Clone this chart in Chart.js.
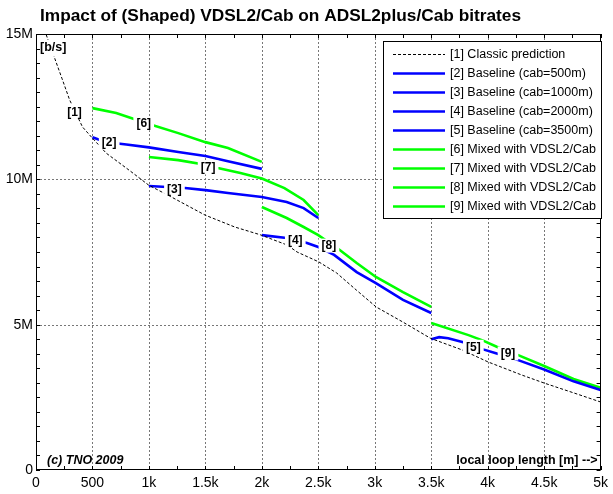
<!DOCTYPE html>
<html><head><meta charset="utf-8">
<script src="https://cdn.jsdelivr.net/npm/chart.js@4/dist/chart.umd.min.js"></script>
<style>html,body{margin:0;padding:0;background:#fff}#wrap{width:613px;height:494px;position:relative}</style>
</head><body><div id="wrap"><canvas id="c" width="613" height="494"></canvas></div>
<script>
// ---- data (x: local loop length in m, y: bitrate in Mb/s) ----
const chartTitle = 'Impact of (Shaped) VDSL2/Cab on ADSL2plus/Cab bitrates';
const seriesNames = ['[1] Classic prediction','[2] Baseline (cab=500m)','[3] Baseline (cab=1000m)','[4] Baseline (cab=2000m)','[5] Baseline (cab=3500m)','[6] Mixed with VDSL2/Cab','[7] Mixed with VDSL2/Cab','[8] Mixed with VDSL2/Cab','[9] Mixed with VDSL2/Cab'];
const shortTags = ['[1]','[2]','[3]','[4]','[5]','[6]','[7]','[8]','[9]'];
const tagX = [341, 648, 1226, 2296, 3873, 954, 1524, 2594, 4180];
const tagY = [12.32, 11.28, 9.66, 7.89, 4.24, 11.93, 10.41, 7.72, 4.01];

const s1x = [60, 88, 166, 231, 298, 412, 499, 622, 823, 998, 1200, 1497, 1760, 1988, 2224, 2312, 2504, 2662, 2837, 3012, 3249, 3494, 3774, 4002, 4300, 4501, 4764, 5000];
const s1y = [15.3, 15.0, 14.16, 13.46, 12.73, 11.80, 11.42, 10.9, 10.32, 9.80, 9.39, 8.77, 8.36, 8.09, 7.74, 7.50, 7.16, 6.78, 6.19, 5.61, 5.09, 4.53, 4.13, 3.72, 3.27, 2.99, 2.65, 2.34];

const s2x = [500, 560, 650, 800, 1000, 1260, 1500, 1700, 2000];
const s2y = [11.45, 11.36, 11.27, 11.2, 11.1, 10.94, 10.80, 10.62, 10.36];

const s3x = [1000, 1320, 1500, 1700, 2000, 2220, 2370, 2500];
const s3y = [9.77, 9.70, 9.63, 9.53, 9.39, 9.22, 9.01, 8.67];

const s4x = [2000, 2220, 2400, 2500, 2640, 2840, 3010, 3250, 3500];
const s4y = [8.08, 7.98, 7.81, 7.67, 7.40, 6.81, 6.43, 5.85, 5.40];

const s5x = [3500, 3570, 3650, 3800, 3960, 4080, 4270, 4500, 4760, 5000];
const s5y = [4.50, 4.57, 4.53, 4.38, 4.15, 4.01, 3.78, 3.46, 3.05, 2.75];

const s6x = [500, 710, 1000, 1260, 1500, 1700, 2000];
const s6y = [12.45, 12.28, 11.9, 11.59, 11.28, 11.08, 10.6];

const s7x = [1000, 1260, 1500, 1610, 1810, 2000, 2200, 2370, 2500];
const s7y = [10.77, 10.66, 10.5, 10.39, 10.22, 10.03, 9.70, 9.29, 8.77];

const s8x = [2000, 2220, 2370, 2500, 2690, 2840, 3010, 3250, 3500];
const s8y = [9.05, 8.67, 8.36, 8.08, 7.57, 7.12, 6.64, 6.12, 5.61];

const s9x = [3500, 3830, 3960, 4080, 4265, 4500, 4760, 5000];
const s9y = [5.06, 4.64, 4.45, 4.24, 3.96, 3.58, 3.13, 2.83];

const xTicks = [0, 500, 1000, 1500, 2000, 2500, 3000, 3500, 4000, 4500, 5000];
const yTicks = [0, 5, 10, 15];

// ---- build ----
const allX = [s1x, s2x, s3x, s4x, s5x, s6x, s7x, s8x, s9x];
const allY = [s1y, s2y, s3y, s4y, s5y, s6y, s7y, s8y, s9y];
const BLUE = '#0000ff', GREEN = '#00ff00';
const colors = ['#000000', BLUE, BLUE, BLUE, BLUE, GREEN, GREEN, GREEN, GREEN];
const FONT = '"Liberation Sans", Arial, sans-serif';

const datasets = allX.map((xs, i) => ({
  label: seriesNames[i],
  data: xs.map((x, k) => ({x: x, y: allY[i][k]})),
  borderColor: colors[i],
  borderWidth: i === 0 ? 1 : 2.6,
  borderDash: i === 0 ? [3, 2] : [],
  pointRadius: 0,
  tension: 0,
  fill: false
}));

const deco = {
  id: 'deco',
  beforeDraw(chart) {
    const ctx = chart.ctx;
    ctx.save();
    ctx.fillStyle = '#fff';
    ctx.fillRect(0, 0, chart.width, chart.height);
    ctx.restore();
  },
  beforeDatasetsDraw(chart) {
    const {ctx, chartArea: a, scales: {x, y}} = chart;
    ctx.save();
    ctx.strokeStyle = '#777';
    ctx.lineWidth = 1;
    ctx.setLineDash([2, 2]);
    xTicks.forEach(v => {
      if (v === 0 || v === 5000) return;
      const px = Math.round(x.getPixelForValue(v)) + 0.5;
      ctx.beginPath(); ctx.moveTo(px, a.top); ctx.lineTo(px, a.bottom); ctx.stroke();
    });
    yTicks.forEach(v => {
      if (v === 0 || v === 15) return;
      const py = Math.round(y.getPixelForValue(v)) + 0.5;
      ctx.beginPath(); ctx.moveTo(a.left, py); ctx.lineTo(a.right, py); ctx.stroke();
    });
    ctx.restore();
  },
  afterDatasetsDraw(chart) {
    const {ctx, chartArea: a, scales: {x, y}} = chart;
    ctx.save();
    // in-line tags with white boxes
    ctx.font = 'bold 12px ' + FONT;
    ctx.textAlign = 'center';
    ctx.textBaseline = 'middle';
    shortTags.forEach((t, i) => {
      const px = x.getPixelForValue(tagX[i]);
      const py = y.getPixelForValue(tagY[i]);
      const w = ctx.measureText(t).width + 6;
      ctx.fillStyle = '#fff';
      ctx.fillRect(px - w / 2, py - 7, w, 14);
      ctx.fillStyle = '#000';
      ctx.fillText(t, px, py + 0.5);
    });
    // [b/s] unit label with white box
    ctx.font = 'bold 12.5px ' + FONT;
    ctx.textAlign = 'left';
    ctx.textBaseline = 'middle';
    const bw = ctx.measureText('[b/s]').width;
    ctx.fillStyle = '#fff';
    ctx.fillRect(a.left + 2, a.top + 6, bw + 5, 16);
    ctx.fillStyle = '#000';
    ctx.fillText('[b/s]', a.left + 4, a.top + 14);
    // axes box
    ctx.strokeStyle = '#000';
    ctx.lineWidth = 1;
    ctx.setLineDash([]);
    ctx.strokeRect(Math.round(a.left) + 0.5, Math.round(a.top) + 0.5, Math.round(a.right - a.left) - 1, Math.round(a.bottom - a.top) - 1);
    // minor ticks
    ctx.beginPath();
    for (let v = 0; v <= 5000; v += 250) {
      const px = Math.round(x.getPixelForValue(v)) + 0.5;
      ctx.moveTo(px, a.bottom); ctx.lineTo(px, a.bottom - 4);
      ctx.moveTo(px, a.top); ctx.lineTo(px, a.top + 4);
    }
    for (let v = 0; v <= 15; v += 0.5) {
      const py = Math.round(y.getPixelForValue(v)) + 0.5;
      ctx.moveTo(a.left, py); ctx.lineTo(a.left + 4, py);
      ctx.moveTo(a.right, py); ctx.lineTo(a.right - 4, py);
    }
    ctx.stroke();
    // corner texts
    ctx.fillStyle = '#000';
    ctx.textAlign = 'left';
    ctx.textBaseline = 'alphabetic';
    ctx.font = 'italic bold 12.5px ' + FONT;
    ctx.fillText('(c) TNO 2009', a.left + 11, a.bottom - 6);
    ctx.font = 'bold 12.5px ' + FONT;
    ctx.textAlign = 'right';
    ctx.fillText('local loop length [m] -->', a.right - 3, a.bottom - 6);
    // legend
    const L = 383.5, T = 41.5, R = 601.5, B = 218.5;
    ctx.fillStyle = '#fff';
    ctx.fillRect(L, T, R - L, B - T);
    ctx.strokeStyle = '#000';
    ctx.lineWidth = 1;
    ctx.strokeRect(L, T, R - L, B - T);
    ctx.font = '12.5px ' + FONT;
    ctx.textAlign = 'left';
    ctx.textBaseline = 'middle';
    seriesNames.forEach((n, i) => {
      const cy = 54 + i * 19.05;
      ctx.strokeStyle = colors[i];
      ctx.lineWidth = i === 0 ? 1 : 2.6;
      ctx.setLineDash(i === 0 ? [3, 2] : []);
      ctx.beginPath(); ctx.moveTo(393, Math.round(cy) + 0.5); ctx.lineTo(445, Math.round(cy) + 0.5); ctx.stroke();
      ctx.fillStyle = '#000';
      ctx.fillText(n, 450, cy + 0.5);
    });
    ctx.setLineDash([]);
    // title
    ctx.font = 'bold 17.3px ' + FONT;
    ctx.textAlign = 'left';
    ctx.textBaseline = 'alphabetic';
    ctx.fillText(chartTitle, 40, 21);
    ctx.restore();
  }
};

new Chart(document.getElementById('c'), {
  type: 'line',
  data: {datasets},
  options: {
    responsive: false,
    animation: false,
    layout: {padding: {top: 34, right: 6, left: 0, bottom: 0}},
    plugins: {legend: {display: false}, tooltip: {enabled: false}, title: {display: false}},
    scales: {
      x: {
        type: 'linear', min: 0, max: 5000,
        grid: {display: false, drawTicks: false},
        border: {display: false},
        afterBuildTicks: s => { s.ticks = xTicks.map(v => ({value: v})); },
        afterFit: s => { s.height = 24; },
        ticks: {
          padding: 5, color: '#000', maxRotation: 0, autoSkip: false,
          font: {family: FONT, size: 14},
          callback: v => v === 0 ? '0' : (v < 1000 ? String(v) : (v / 1000) + 'k')
        }
      },
      y: {
        type: 'linear', min: 0, max: 15,
        grid: {display: false, drawTicks: false},
        border: {display: false},
        afterBuildTicks: s => { s.ticks = yTicks.map(v => ({value: v})); },
        afterFit: s => { s.width = 36; },
        ticks: {
          padding: 3, color: '#000',
          font: {family: FONT, size: 14},
          callback: v => v === 0 ? '0' : v + 'M'
        }
      }
    }
  },
  plugins: [deco]
});
</script>
</body></html>
